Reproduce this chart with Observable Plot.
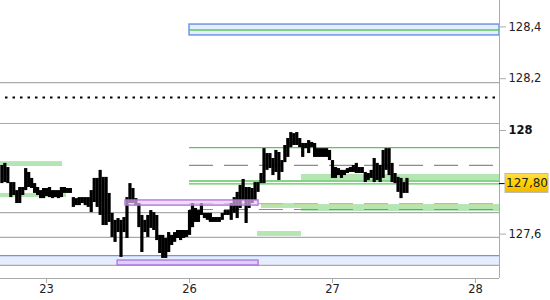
<!DOCTYPE html>
<html><head><meta charset="utf-8">
<script src="https://cdn.jsdelivr.net/npm/d3@7"></script>
<script src="https://cdn.jsdelivr.net/npm/@observablehq/plot@0.6"></script>
<style>body{margin:0;background:#fff} svg{display:block}</style>
</head><body><div id="chart"></div>
<script>
// x axis: trading-day index (0 = the 23rd, 1 = the 26th, ...)
const dayTicks = [0, 1, 2, 3];
const dayLabels = ["23", "26", "27", "28"];
const barStartHour = -7.5;   // first 30-min bar, hours relative to the 23rd
const barStepHours = 0.5;
const highs = [127.865,127.873,127.857,127.799,127.799,127.768,127.780,127.780,127.853,127.838,
127.815,127.795,127.780,127.768,127.776,127.776,127.780,127.768,127.768,127.768,
127.780,127.780,127.776,127.776,127.741,127.737,127.741,127.741,127.741,127.741,
127.768,127.815,127.815,127.846,127.819,127.819,127.757,127.680,127.653,127.660,
127.653,127.664,127.741,127.795,127.776,127.737,127.718,127.672,127.653,127.672,
127.691,127.683,127.672,127.595,127.595,127.583,127.606,127.595,127.606,127.614,
127.614,127.614,127.614,127.691,127.718,127.699,127.691,127.718,127.680,127.680,
127.680,127.664,127.664,127.664,127.680,127.691,127.691,127.718,127.741,127.761,
127.788,127.811,127.780,127.780,127.776,127.799,127.799,127.834,127.930,127.911,
127.911,127.892,127.923,127.915,127.884,127.942,127.969,127.992,127.988,127.992,
127.969,127.950,127.950,127.961,127.954,127.950,127.930,127.930,127.930,127.930,
127.923,127.884,127.857,127.853,127.846,127.846,127.853,127.857,127.865,127.873,
127.857,127.857,127.838,127.834,127.846,127.892,127.873,127.865,127.923,127.930,
127.930,127.873,127.834,127.819,127.815,127.799,127.815];
const lows = [127.795,127.799,127.795,127.741,127.749,127.718,127.718,127.749,127.768,127.780,
127.776,127.757,127.749,127.737,127.737,127.745,127.741,127.737,127.741,127.737,
127.741,127.757,127.757,127.757,127.703,127.710,127.710,127.718,127.710,127.703,
127.683,127.722,127.703,127.672,127.633,127.633,127.645,127.587,127.568,127.606,
127.510,127.606,127.583,127.718,127.718,127.710,127.625,127.529,127.606,127.587,
127.622,127.614,127.575,127.525,127.506,127.506,127.529,127.556,127.568,127.583,
127.575,127.583,127.587,127.595,127.625,127.645,127.645,127.672,127.660,127.653,
127.645,127.645,127.645,127.645,127.653,127.672,127.672,127.653,127.680,127.660,
127.699,127.730,127.641,127.699,127.718,127.730,127.761,127.795,127.795,127.846,
127.853,127.826,127.838,127.807,127.838,127.876,127.896,127.934,127.942,127.942,
127.934,127.896,127.930,127.911,127.934,127.896,127.896,127.896,127.896,127.896,
127.884,127.815,127.815,127.826,127.815,127.826,127.834,127.838,127.838,127.834,
127.834,127.834,127.799,127.807,127.815,127.799,127.807,127.799,127.815,127.846,
127.826,127.799,127.795,127.761,127.737,127.757,127.757];
const priceTicks = [127.6, 128, 128.2, 128.4];
const boldTick = 128;
const lastPrice = 127.795;

const xDomain = [-0.322, 3.168];
const yDomain = [127.4286, 128.5019];
const L = xDomain[0], R = xDomain[1];

// horizontal levels
const grayLevels = [128.185, 128.027, 127.683, 127.587, 127.479];
const dottedLevel = {y: 128.127, t1: -0.287, t2: 3.14};
const greenLevels = [128.388, 127.934, 127.805, 127.794];   // from the 26th
const grayDashLevels = [127.865, 127.695];                  // from the 26th
const orangeDashLevels = [127.718];                         // from the 26th
const blueBand = {t1: L, t2: R, y1: 127.479, y2: 127.517};
const blueBox = {t1: 1, t2: R, y1: 128.367, y2: 128.409};
const greenZones = [
  {t1: L, t2: 0.112, y1: 127.861, y2: 127.880},
  {t1: L, t2: 0.14, y1: 127.741, y2: 127.757},
  {t1: 1.476, t2: 1.783, y1: 127.591, y2: 127.610},
  {t1: 1.783, t2: R, y1: 127.807, y2: 127.830},
  {t1: 1.503, t2: 1.783, y1: 127.699, y2: 127.718},
  {t1: 1.783, t2: R, y1: 127.687, y2: 127.714}
];
const purpleZones = [
  {t1: 0.552, t2: 1.483, y1: 127.710, y2: 127.730, fill: "#e6c8f2"},
  {t1: 0.497, t2: 1.483, y1: 127.479, y2: 127.498, fill: "#d2c4f4"}
];

const bars = highs.map((h, i) => ({t: (barStartHour + i * barStepHours) / 24, high: h, low: lows[i]}));
const comma = v => String(v).replace(".", ",");
const from26 = ys => ys.map(y => ({y, t1: 1, t2: R}));

const chart = Plot.plot({
  width: 550, height: 300,
  marginLeft: 0, marginRight: 51, marginTop: 0, marginBottom: 22,
  style: {fontFamily: "DejaVu Sans, Verdana, sans-serif", fontSize: "11px", background: "#fff"},
  x: {domain: xDomain, axis: null},
  y: {domain: yDomain, axis: null},
  marks: [
    Plot.rect([blueBand], {x1: "t1", x2: "t2", y1: "y1", y2: "y2", fill: "#e6edff"}),
    Plot.ruleY([blueBand], {y: "y2", x1: "t1", x2: "t2", stroke: "#6f96e6", strokeWidth: 1.3}),
    Plot.rect(greenZones, {x1: "t1", x2: "t2", y1: "y1", y2: "y2", fill: "#b4e6b4"}),
    Plot.rect([blueBox], {x1: "t1", x2: "t2", y1: "y1", y2: "y2", fill: "#e6edff", stroke: "#6f96e6", strokeWidth: 1.5}),
    Plot.ruleY(grayLevels.map(y => ({y, t1: L, t2: R})), {y: "y", x1: "t1", x2: "t2", stroke: "#aaaaaa", strokeWidth: 1.2}),
    Plot.ruleY([dottedLevel], {y: "y", x1: "t1", x2: "t2", stroke: "#000", strokeWidth: 2, strokeDasharray: "2.5,5"}),
    Plot.ruleY(from26(grayDashLevels), {y: "y", x1: "t1", x2: "t2", stroke: "#8c8c8c", strokeWidth: 1.2, strokeDasharray: "24,11"}),
    Plot.ruleY(from26(orangeDashLevels), {y: "y", x1: "t1", x2: "t2", stroke: "#f2b24a", strokeWidth: 1.2, strokeDasharray: "24,11"}),
    Plot.ruleY(from26(greenLevels), {y: "y", x1: "t1", x2: "t2", stroke: "#58c858", strokeWidth: 1.3}),
    Plot.ruleX(bars, {x: "t", y1: "low", y2: "high", stroke: "#000", strokeWidth: 3.2}),
    Plot.rect(purpleZones, {x1: "t1", x2: "t2", y1: "y1", y2: "y2", fill: "fill", fillOpacity: 0.65, stroke: "#b070dd", strokeWidth: 1.3}),
    // axis frame
    Plot.ruleX([R], {stroke: "#aaaaaa"}),
    Plot.ruleY([yDomain[0]], {stroke: "#aaaaaa"}),
    Plot.axisY({anchor: "right", ticks: priceTicks.filter(d => d !== boldTick), tickSize: 6, tickPadding: 3, tickFormat: comma, stroke: "#aaaaaa", fill: "#222", fontSize: 11.5}),
    Plot.axisY({anchor: "right", ticks: [boldTick], tickSize: 6, tickPadding: 3, tickFormat: comma, stroke: "#aaaaaa", fill: "#111", fontSize: 11.5, fontWeight: "bold"}),
    Plot.axisX({anchor: "bottom", ticks: dayTicks, tickFormat: i => dayLabels[i], tickSize: 5, tickPadding: 1, stroke: "#aaaaaa", fill: "#222", fontSize: 11.5}),
    // last price marker
    Plot.ruleY([lastPrice], {x1: R, x2: R + 6 / 143, stroke: "#000"}),
    Plot.rect([lastPrice], {x1: R + 6 / 143, x2: R + 49 / 143, y1: d => d - 0.036, y2: d => d + 0.037, fill: "url(#gold)", stroke: "#b9b9b9"}),
    Plot.text([lastPrice], {x: R + 27.5 / 143, y: d => d, text: d => d.toFixed(2).replace(".", ","), fill: "#222", fontSize: 12})
  ]
});

const svg = d3.select(chart);
const defs = svg.insert("defs", ":first-child");
const g = defs.append("linearGradient").attr("id", "gold").attr("x1", 0).attr("y1", 0).attr("x2", 0).attr("y2", 1);
g.append("stop").attr("offset", "0%").attr("stop-color", "#ffe04a");
g.append("stop").attr("offset", "50%").attr("stop-color", "#ffd000");
g.append("stop").attr("offset", "100%").attr("stop-color", "#f2b800");
document.getElementById("chart").appendChild(chart);
</script>
</body></html>
